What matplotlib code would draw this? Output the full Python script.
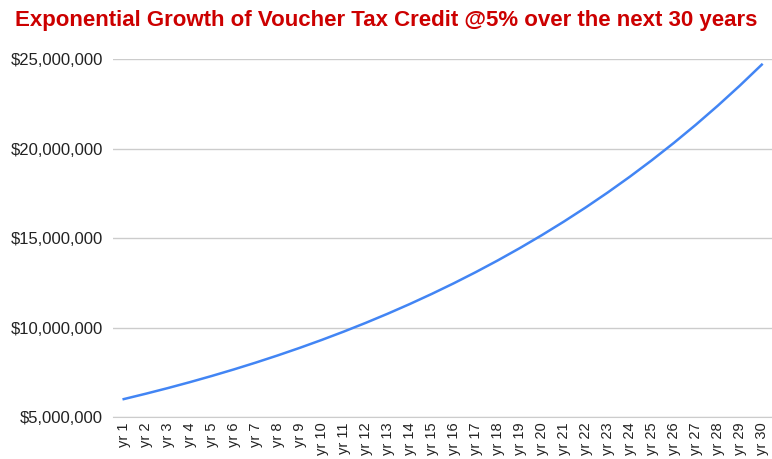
import matplotlib
matplotlib.use("Agg")
import matplotlib.pyplot as plt
from matplotlib.ticker import FuncFormatter

plt.rcParams['font.family'] = ['Liberation Sans', 'DejaVu Sans']

years = [f"yr {i}" for i in range(1, 31)]
credit = [6000000, 6300000, 6615000, 6945750, 7293038, 7657689, 8040574, 8442603,
          8864733, 9307969, 9773368, 10262036, 10775138, 11313895, 11879590,
          12473569, 13097248, 13752110, 14439716, 15161701, 15919786, 16715776,
          17551564, 18429143, 19350600, 20318130, 21334036, 22400738, 23520775,
          24696814]
yticks = [5000000, 10000000, 15000000, 20000000, 25000000]

fig = plt.figure(figsize=(7.72, 4.59), dpi=100)
ax = fig.add_axes([0.146, 0.0915, 0.855, 0.7795])

ax.plot(range(len(years)), credit, color='#4285F4', linewidth=1.8)

ax.set_xlim(-0.5, len(years) - 0.5)
ax.set_ylim(5000000, 25000000)
ax.set_yticks(yticks)
ax.yaxis.set_major_formatter(FuncFormatter(lambda v, p: f"${v:,.0f}"))
ax.set_xticks(range(len(years)))
ax.set_xticklabels(years, rotation=90)

ax.grid(axis='y', color='#cccccc', linewidth=1)
ax.set_axisbelow(True)
for s in ['top', 'right', 'left']:
    ax.spines[s].set_visible(False)
ax.spines['bottom'].set_color('#cccccc')
ax.tick_params(axis='both', length=0, colors='#222222')
ax.tick_params(axis='y', pad=7, labelsize=12)
ax.tick_params(axis='x', pad=4, labelsize=10.5)

fig.text(0.5, 0.955, "Exponential Growth of Voucher Tax Credit @5% over the next 30 years",
         ha='center', va='center', color='#cc0000', fontsize=16, fontweight='bold')

fig.savefig('out.png', dpi=100)
